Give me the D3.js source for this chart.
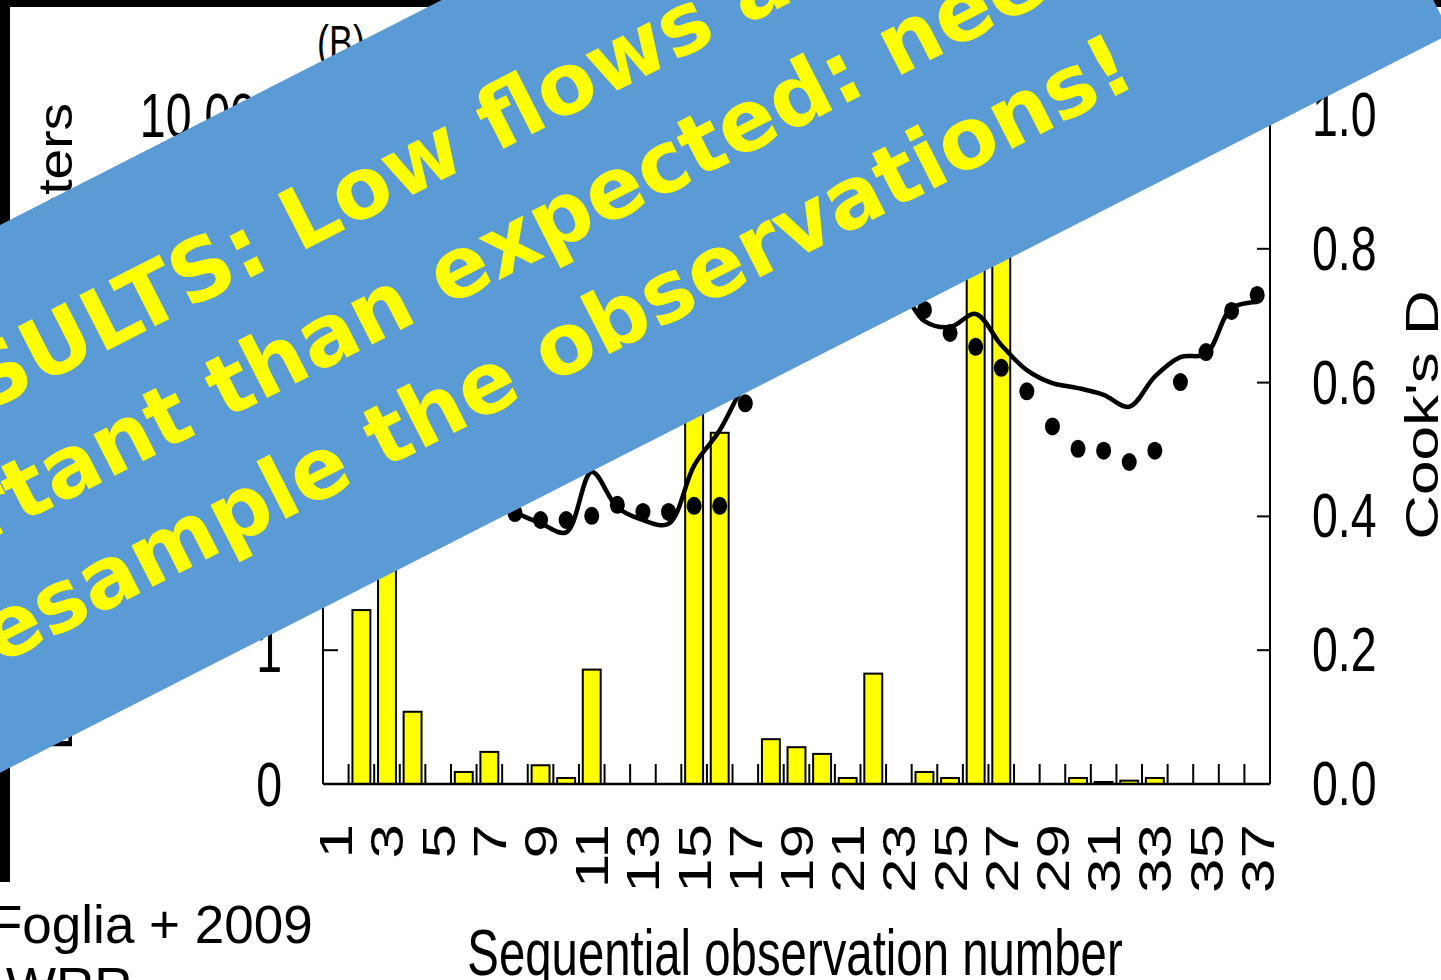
<!DOCTYPE html>
<html>
<head>
<meta charset="utf-8">
<script src="https://cdn.jsdelivr.net/npm/d3@7"></script>
<style>
  html, body { margin: 0; padding: 0; background: #fff; overflow: hidden; }
</style>
</head>
<body>
<svg id="chart" width="1441" height="980"></svg>
<script>
// observation numbers and values
const obs = d3.range(1, 38);
const cooksD = [0, 0.26, 0.6, 0.108, 0, 0.018, 0.048, 0, 0.028, 0.009,
  0.171, 0, 0, 0, 0.85, 0.525, 0, 0.067, 0.055, 0.045,
  0.009, 0.165, 0, 0.018, 0.009, 1.1, 0.95, 0, 0, 0.009,
  0.003, 0.005, 0.009, 0, null, null, 0];
const observedFlow = [19, 22, 26, 22, 19, 16, 13, 10.6, 9.4, 9.4,
  10.1, 12.2, 10.8, 10.8, 12, 12, 70, 175, 247, 320,
  414, 492, 492, 349, 235, 185, 129, 86, 47, 32,
  31, 25.5, 31, 101, 169, 343, 452];
const simulatedFlow = [22, 26, 31, 29, 24, 19, 14.5, 10.8, 8.9, 7.6,
  21.5, 11.7, 9.4, 8.8, 24, 44, 101, 191, 247, 304,
  380, 452, 492, 288, 260, 326, 191, 124, 99, 91,
  81, 66, 111, 155, 164, 361, 400];

const leftTicks = [0.1, 1, 10, 100, 1000, 10000];
const leftTickLabels = ["0", "1", "10", "100", "1,000", "10,000"];
const rightTicks = [0, 0.2, 0.4, 0.6, 0.8, 1.0];
const xTickObs = obs.filter(d => d % 2 == 1);

const bannerLines = ["RESULTS: Low flows are more",
  "important than expected: need to",
  "resample the observations!"];

const svg = d3.select("#chart");
const font = "'Liberation Sans', Arial, sans-serif";
const sx = 0.75;   // the figure is squeezed sideways

let plotLeft = 323, plotRight = 1270, base = 784, plotTop = 115;

let x = d3.scaleBand().domain(obs).range([plotLeft, plotRight])
  .paddingInner(0.3).paddingOuter(0.15);
let yR = d3.scaleLinear().domain([0, 1]).range([base, plotTop]);
let yL = d3.scaleLog().domain([0.1, 10000]).range([base, plotTop]);

// black frame bits of the slide
svg.append("rect").attr("x", 0).attr("y", 0).attr("width", 1441).attr("height", 7).attr("fill", "#000");
svg.append("rect").attr("x", 0).attr("y", 0).attr("width", 10).attr("height", 882).attr("fill", "#000");

svg.append("clipPath").attr("id", "plotClip")
  .append("rect").attr("x", plotLeft).attr("y", 95).attr("width", plotRight - plotLeft).attr("height", base - 95 + 2);

// bars
svg.append("g").attr("clip-path", "url(#plotClip)")
  .selectAll("rect")
  .data(obs.filter((d, i) => cooksD[i] !== null))
  .enter()
  .append("rect")
  .attr("x", d => x(d))
  .attr("y", d => yR(cooksD[d - 1]))
  .attr("width", x.bandwidth())
  .attr("height", d => base - yR(cooksD[d - 1]))
  .attr("fill", "#ffff00")
  .attr("stroke", "#000")
  .attr("stroke-width", 2);

// small ticks between bars
svg.append("g").selectAll("line")
  .data(obs.slice(0, -1))
  .enter()
  .append("line")
  .attr("x1", d => x(d) + x.bandwidth() / 2 + x.step() / 2)
  .attr("x2", d => x(d) + x.bandwidth() / 2 + x.step() / 2)
  .attr("y1", base)
  .attr("y2", base - 20)
  .attr("stroke", "#000")
  .attr("stroke-width", 2);

// axes lines
svg.append("line").attr("x1", plotLeft).attr("x2", plotRight).attr("y1", base).attr("y2", base)
  .attr("stroke", "#000").attr("stroke-width", 2.5);
svg.append("line").attr("x1", plotLeft).attr("x2", plotLeft).attr("y1", base).attr("y2", 95)
  .attr("stroke", "#000").attr("stroke-width", 2);
svg.append("line").attr("x1", plotRight).attr("x2", plotRight).attr("y1", base).attr("y2", 95)
  .attr("stroke", "#000").attr("stroke-width", 2);

// left ticks and labels
svg.append("g").selectAll("line")
  .data(leftTicks)
  .enter()
  .append("line")
  .attr("x1", plotLeft).attr("x2", plotLeft + 15)
  .attr("y1", d => yL(d)).attr("y2", d => yL(d))
  .attr("stroke", "#000").attr("stroke-width", 2);
svg.append("g").selectAll("text")
  .data(leftTicks)
  .enter()
  .append("text")
  .attr("transform", d => `translate(282,${yL(d) + 22}) scale(${sx},1)`)
  .attr("text-anchor", "end")
  .attr("font-family", font)
  .attr("font-size", 62)
  .text((d, i) => leftTickLabels[i]);

// right ticks and labels
svg.append("g").selectAll("line")
  .data(rightTicks)
  .enter()
  .append("line")
  .attr("x1", plotRight - 13).attr("x2", plotRight)
  .attr("y1", d => yR(d)).attr("y2", d => yR(d))
  .attr("stroke", "#000").attr("stroke-width", 2);
svg.append("g").selectAll("text")
  .data(rightTicks)
  .enter()
  .append("text")
  .attr("transform", d => `translate(1312,${yR(d) + 21}) scale(${sx},1)`)
  .attr("font-family", font)
  .attr("font-size", 62)
  .text(d => d.toFixed(1));

// x tick labels, turned
svg.append("g").selectAll("text")
  .data(xTickObs)
  .enter()
  .append("text")
  .attr("transform", d => `translate(${x(d) + x.bandwidth() / 2 + 16.5},824) scale(${sx},1) rotate(-90)`)
  .attr("text-anchor", "end")
  .attr("font-family", font)
  .attr("font-size", 62)
  .text(d => d);

// simulated line
let line = d3.line()
  .x(d => x(d) + x.bandwidth() / 2)
  .y(d => yL(simulatedFlow[d - 1]))
  .curve(d3.curveCatmullRom.alpha(0.5));
svg.append("path")
  .datum(obs)
  .attr("d", line)
  .attr("fill", "none")
  .attr("stroke", "#000")
  .attr("stroke-width", 4.5)
  .attr("stroke-linejoin", "round");

// observed dots
svg.append("g").selectAll("ellipse")
  .data(obs)
  .enter()
  .append("ellipse")
  .attr("cx", d => x(d) + x.bandwidth() / 2)
  .attr("cy", d => yL(observedFlow[d - 1]))
  .attr("rx", 7.5)
  .attr("ry", 9)
  .attr("fill", "#000");

// axis titles
svg.append("text")
  .attr("transform", `translate(795,975) scale(0.74,1)`)
  .attr("text-anchor", "middle")
  .attr("font-family", font)
  .attr("font-size", 64)
  .text("Sequential observation number");
svg.append("text")
  .attr("transform", `translate(1438,415) scale(${sx},1) rotate(-90)`)
  .attr("text-anchor", "middle")
  .attr("font-family", font)
  .attr("font-size", 62)
  .text("Cook's D");
svg.append("text")
  .attr("transform", `translate(72,103) scale(0.86,1) rotate(-90)`)
  .attr("text-anchor", "end")
  .attr("font-family", font)
  .attr("font-size", 55)
  .text("Discharge, in cubic meters");
svg.append("text")
  .attr("transform", `translate(317,59) scale(${sx},1)`)
  .attr("font-family", font)
  .attr("font-size", 48)
  .text("(B)");

// citation
svg.append("text").attr("x", -10).attr("y", 943)
  .attr("font-family", font).attr("font-size", 53).text("Foglia + 2009");
svg.append("text").attr("x", 6).attr("y", 1005)
  .attr("font-family", font).attr("font-size", 53).text("WRR");

// blue banner
let banner = svg.append("g").attr("transform", "rotate(-27)");
banner.append("rect")
  .attr("x", -900).attr("y", 200.5)
  .attr("width", 1277 + 900).attr("height", 488)
  .attr("fill", "#5b9bd5");
let lineU = [-325, -498, -345];
let lineV = [361, 476, 592];
banner.selectAll("text")
  .data(bannerLines)
  .enter()
  .append("text")
  .attr("x", (d, i) => lineU[i])
  .attr("y", (d, i) => lineV[i])
  .attr("font-family", "'DejaVu Sans', Verdana, sans-serif")
  .attr("font-weight", "bold")
  .attr("font-size", 85)
  .attr("fill", "#ffff00")
  .text(d => d);
</script>
</body>
</html>
